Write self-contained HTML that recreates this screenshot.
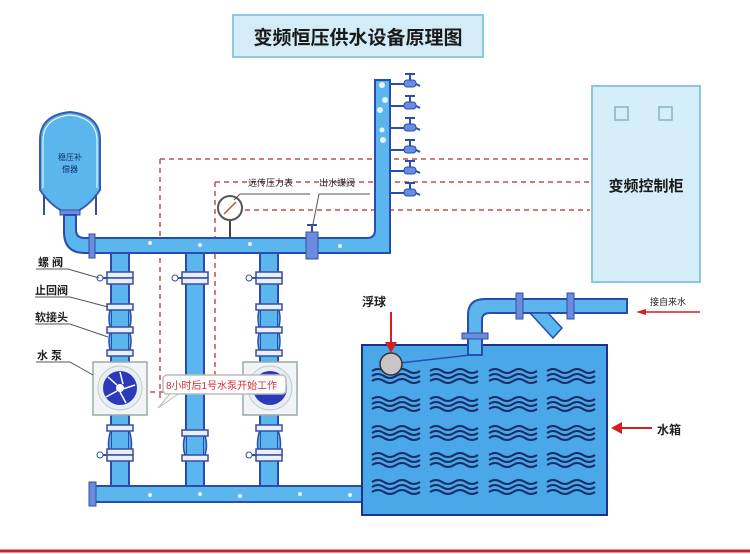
<!DOCTYPE html>
<html><head><meta charset="utf-8"><style>
body{margin:0;background:#fff}
svg{display:block}
text{font-family:"Liberation Sans","Noto Sans CJK SC",sans-serif}
</style></head><body>
<svg width="750" height="554" viewBox="0 0 750 554" xmlns="http://www.w3.org/2000/svg">
<defs>
<g id="wave"><path d="M0 0 q6 -4 12 0 t12 0 t12 0 t12 0 M0 5 q6 -4 12 0 t12 0 t12 0 t12 0 M0 10 q6 -4 12 0 t12 0 t12 0 t12 0" fill="none" stroke="#1a2d6a" stroke-width="2"/></g>
<g id="tap"><line x1="0" y1="0" x2="14" y2="0" stroke="#2a4cb0" stroke-width="2"/><rect x="14" y="-4" width="12" height="7" rx="3" fill="#6a8ce0" stroke="#2a4cb0"/><line x1="20" y1="-4" x2="20" y2="-10" stroke="#2a4cb0" stroke-width="2"/><line x1="15" y1="-10" x2="25" y2="-10" stroke="#2a4cb0" stroke-width="2"/><line x1="26" y1="0" x2="30" y2="2" stroke="#2a4cb0" stroke-width="2"/></g>
<g id="fl"><rect x="-13" y="-3" width="26" height="6" fill="#e8f0ff" stroke="#3a4c9c" stroke-width="1.5"/></g>
</defs>

<!-- title -->
<rect x="233" y="15" width="250" height="42" fill="#d3ecf8" stroke="#8fc8dc" stroke-width="2"/>
<text x="358" y="44" text-anchor="middle" font-size="19" font-weight="bold" fill="#1a1a1a">变频恒压供水设备原理图</text>

<!-- control cabinet -->
<rect x="592" y="86" width="108" height="196" fill="#d6eefa" stroke="#8cc6da" stroke-width="2"/>
<rect x="615" y="107" width="13" height="13" fill="none" stroke="#8cb0c0" stroke-width="1.5"/>
<rect x="659" y="107" width="13" height="13" fill="none" stroke="#8cb0c0" stroke-width="1.5"/>
<text x="646" y="191" text-anchor="middle" font-size="15" font-weight="bold" fill="#1a1a1a">变频控制柜</text>

<!-- dashed lines -->
<g stroke="#c0504d" stroke-width="1.5" stroke-dasharray="5,4" fill="none">
<path d="M160 159 H590"/>
<path d="M160 159 V398"/>
<path d="M215 182 H590"/>
<path d="M215 182 V378"/>
<path d="M245 210 H590"/>
<path d="M150 392 H163"/>
</g>

<!-- accumulator -->
<path d="M40 190 V140 Q40 115 70 112 Q100 115 100 140 V190 Q90 205 76 212 H64 Q50 205 40 190Z" fill="#5ab6ec" stroke="#3a5cb0" stroke-width="2"/>
<path d="M43 188 V141 Q43 118 70 115 Q97 118 97 141 V188" fill="none" stroke="#fff" stroke-width="1"/>
<line x1="44" y1="195" x2="44" y2="215" stroke="#3a4c9c" stroke-width="2"/>
<line x1="96" y1="195" x2="96" y2="215" stroke="#3a4c9c" stroke-width="2"/>
<rect x="60" y="210" width="20" height="5" fill="#6a8ce0" stroke="#3a4c9c"/>
<text x="70" y="160" text-anchor="middle" font-size="8" fill="#1a2d6a">稳压补</text>
<text x="70" y="172" text-anchor="middle" font-size="8" fill="#1a2d6a">偿器</text>

<!-- pipe from accumulator + main header -->
<path d="M64 215 V232 Q64 253 85 253 H390 V80 H375 V230 Q375 238 367 238 H85 Q76 238 76 230 V215Z" fill="#5ab6ec" stroke="#2a4cb0" stroke-width="2"/>
<rect x="89" y="234" width="6" height="24" fill="#6a8ce0" stroke="#3a4c9c"/>

<!-- gauge -->
<line x1="230" y1="220" x2="230" y2="238" stroke="#444" stroke-width="2"/>
<circle cx="230" cy="208" r="12" fill="#fff" stroke="#555" stroke-width="2"/>
<line x1="224" y1="214" x2="236" y2="202" stroke="#c0504d" stroke-width="1.5"/>
<!-- outlet valve -->
<rect x="306" y="232" width="12" height="27" fill="#6a8ce0" stroke="#3a4c9c"/>
<line x1="312" y1="232" x2="312" y2="225" stroke="#3a4c9c" stroke-width="2"/>
<line x1="307" y1="225" x2="317" y2="225" stroke="#3a4c9c" stroke-width="2"/>

<!-- labels top -->
<text x="248" y="186" font-size="9" fill="#222">远传压力表</text>
<text x="319" y="186" font-size="9" fill="#222">出水蝶阀</text>
<line x1="240" y1="194" x2="310" y2="194" stroke="#555"/>
<line x1="240" y1="194" x2="234" y2="200" stroke="#555"/>
<line x1="319" y1="194" x2="370" y2="194" stroke="#555"/>
<line x1="319" y1="194" x2="313" y2="224" stroke="#555"/>

<!-- taps on riser -->
<use href="#tap" x="390" y="84"/>
<use href="#tap" x="390" y="106"/>
<use href="#tap" x="390" y="128"/>
<use href="#tap" x="390" y="150"/>
<use href="#tap" x="390" y="171"/>
<use href="#tap" x="390" y="193"/>

<!-- columns -->
<rect x="111" y="253" width="18" height="240" fill="#5ab6ec" stroke="#2a4cb0" stroke-width="2"/>
<rect x="186" y="253" width="18" height="240" fill="#5ab6ec" stroke="#2a4cb0" stroke-width="2"/>
<rect x="260" y="253" width="18" height="240" fill="#5ab6ec" stroke="#2a4cb0" stroke-width="2"/>
<!-- bulges -->
<g fill="#5ab6ec" stroke="#2a4cb0" stroke-width="1.5">
<path d="M111 307 q-4 11 0 23 M129 307 q4 11 0 23 M111 330 q-4 11 0 23 M129 330 q4 11 0 23"/>
<path d="M260 307 q-4 11 0 23 M278 307 q4 11 0 23 M260 330 q-4 11 0 23 M278 330 q4 11 0 23"/>
<path d="M111 430 q-5 14 0 28 M129 430 q5 14 0 28"/>
<path d="M186 433 q-5 12 0 25 M204 433 q5 12 0 25"/>
<path d="M260 430 q-5 14 0 28 M278 430 q5 14 0 28"/>
</g>
<g>
<use href="#fl" x="120" y="275"/><use href="#fl" x="120" y="281"/>
<use href="#fl" x="120" y="307"/><use href="#fl" x="120" y="330"/><use href="#fl" x="120" y="353"/>
<use href="#fl" x="195" y="275"/><use href="#fl" x="195" y="281"/>
<use href="#fl" x="269" y="275"/><use href="#fl" x="269" y="281"/>
<use href="#fl" x="269" y="307"/><use href="#fl" x="269" y="330"/><use href="#fl" x="269" y="353"/>
<use href="#fl" x="120" y="428"/><use href="#fl" x="120" y="452"/><use href="#fl" x="120" y="458"/>
<use href="#fl" x="195" y="433"/><use href="#fl" x="195" y="458"/>
<use href="#fl" x="269" y="428"/><use href="#fl" x="269" y="452"/><use href="#fl" x="269" y="458"/>
</g>
<g stroke="#3a4c9c" stroke-width="2"><line x1="100" y1="278" x2="107" y2="278"/><line x1="175" y1="278" x2="182" y2="278"/><line x1="249" y1="278" x2="256" y2="278"/><line x1="100" y1="455" x2="107" y2="455"/><line x1="249" y1="455" x2="256" y2="455"/></g>
<g fill="#fff" stroke="#3a4c9c"><circle cx="100" cy="278" r="3"/><circle cx="175" cy="278" r="3"/><circle cx="249" cy="278" r="3"/><circle cx="100" cy="455" r="3"/><circle cx="249" cy="455" r="3"/></g>

<!-- pumps -->
<rect x="93" y="362" width="54" height="53" fill="#f2f4f6" stroke="#9aa" stroke-width="1.5"/>
<circle cx="120" cy="388" r="22" fill="#e8eef4" stroke="#bcc"/>
<circle cx="120" cy="388" r="17" fill="#2a3ab8"/>
<circle cx="120" cy="388" r="4" fill="#fff"/>
<path d="M120 372 l3 12 M135 385 l-12 4 M126 403 l-6 -11 M106 397 l11 -6 M108 377 l9 8" stroke="#fff" stroke-width="1.5"/>
<rect x="243" y="362" width="54" height="53" fill="#f2f4f6" stroke="#9aa" stroke-width="1.5"/>
<circle cx="270" cy="388" r="22" fill="#e8eef4" stroke="#bcc"/>
<circle cx="270" cy="388" r="17" fill="#2a3ab8"/>
<circle cx="270" cy="388" r="4" fill="#fff"/>

<!-- callout -->
<rect x="163" y="375" width="123" height="19" rx="4" fill="#fff" stroke="#bbb" stroke-width="1.5"/>
<path d="M170 394 L158 408 L178 394Z" fill="#fff" stroke="#bbb"/>
<text x="166" y="389" font-size="10" fill="#d03030">8小时后1号水泵开始工作</text>

<!-- bottom pipe -->
<rect x="95" y="486" width="268" height="16" fill="#5ab6ec" stroke="#2a4cb0" stroke-width="2"/>
<rect x="89" y="482" width="7" height="24" fill="#6a8ce0" stroke="#3a4c9c"/>

<!-- bubbles -->
<g fill="#fff" opacity=".85">
<circle cx="382" cy="85" r="3"/><circle cx="385" cy="100" r="3"/><circle cx="380" cy="110" r="3"/><circle cx="382" cy="130" r="2.5"/><circle cx="383" cy="140" r="3"/><circle cx="150" cy="243" r="2"/><circle cx="200" cy="245" r="2"/><circle cx="250" cy="244" r="2"/><circle cx="340" cy="246" r="2"/>
<circle cx="150" cy="495" r="2"/><circle cx="200" cy="494" r="2"/><circle cx="240" cy="496" r="2"/><circle cx="300" cy="494" r="2"/><circle cx="350" cy="495" r="2"/>
</g>

<!-- left labels -->
<g font-size="11" font-weight="bold" fill="#222">
<text x="38" y="266">螺 阀</text>
<text x="35" y="294">止回阀</text>
<text x="35" y="321">软接头</text>
<text x="37" y="359">水 泵</text>
</g>
<g stroke="#555" fill="none">
<path d="M36 269 H68 L99 278"/>
<path d="M35 297 H70 L108 307"/>
<path d="M35 324 H70 L108 337"/>
<path d="M36 362 H70 L93 375"/>
</g>

<!-- water tank -->
<rect x="362" y="345" width="245" height="170" fill="#4ba8e8" stroke="#1a3388" stroke-width="2"/>
<g>
<use href="#wave" x="372" y="371"/><use href="#wave" x="430" y="371"/><use href="#wave" x="489" y="371"/><use href="#wave" x="547" y="371"/>
<use href="#wave" x="372" y="399"/><use href="#wave" x="430" y="399"/><use href="#wave" x="489" y="399"/><use href="#wave" x="547" y="399"/>
<use href="#wave" x="372" y="428"/><use href="#wave" x="430" y="428"/><use href="#wave" x="489" y="428"/><use href="#wave" x="547" y="428"/>
<use href="#wave" x="372" y="455"/><use href="#wave" x="430" y="455"/><use href="#wave" x="489" y="455"/><use href="#wave" x="547" y="455"/>
<use href="#wave" x="372" y="482"/><use href="#wave" x="430" y="482"/><use href="#wave" x="489" y="482"/><use href="#wave" x="547" y="482"/>
</g>
<!-- inlet pipe -->
<path d="M468 355 V315 Q468 299 485 299 H627 V313 H490 Q482 313 482 320 V355Z" fill="#5ab6ec" stroke="#2a4cb0" stroke-width="2"/>
<path d="M530 313 L553 338 L562 328 L548 313Z" fill="#5ab6ec" stroke="#2a4cb0" stroke-width="1.5"/>
<rect x="516" y="293" width="7" height="26" fill="#6a8ce0" stroke="#3a4c9c"/>
<rect x="567" y="293" width="7" height="26" fill="#6a8ce0" stroke="#3a4c9c"/>
<rect x="462" y="333" width="26" height="6" fill="#6a8ce0" stroke="#3a4c9c"/>
<!-- float -->
<line x1="400" y1="363" x2="470" y2="355" stroke="#2a4cb0" stroke-width="1.5"/>
<circle cx="391" cy="364" r="11" fill="#c8c4c8" stroke="#333" stroke-width="1.5"/>

<!-- right labels -->
<text x="362" y="306" font-size="12" font-weight="bold" fill="#222">浮球</text>
<line x1="391" y1="312" x2="391" y2="346" stroke="#d02020" stroke-width="2"/>
<path d="M385 342 L391 353 L397 342Z" fill="#d02020"/>
<text x="650" y="305" font-size="9" fill="#222">接自来水</text>
<line x1="640" y1="312" x2="700" y2="312" stroke="#d02020" stroke-width="1.5"/>
<path d="M636 312 L646 309 L646 315Z" fill="#d02020"/>
<text x="657" y="434" font-size="12" font-weight="bold" fill="#222">水箱</text>
<line x1="618" y1="428" x2="652" y2="428" stroke="#d02020" stroke-width="2"/>
<path d="M611 428 L622 422 L622 434Z" fill="#d02020"/>

<line x1="0" y1="551" x2="750" y2="551" stroke="#d02030" stroke-width="3"/>
</svg>
</body></html>
